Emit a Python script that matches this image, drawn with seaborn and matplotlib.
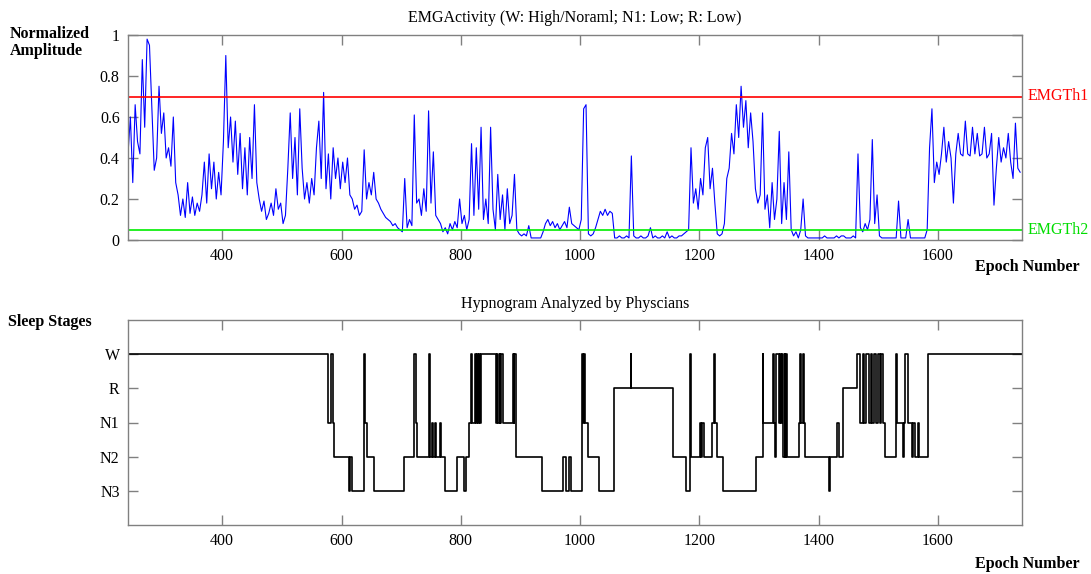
import numpy as np
import pandas as pd
import matplotlib
matplotlib.use("Agg")
import matplotlib.pyplot as plt
import seaborn as sns

# EMG amplitude, one value every 4 epochs starting at epoch 242
emg_start = 242
emg_step = 4
emg_values = [
    0.42, 0.60, 0.28, 0.66, 0.48, 0.42, 0.88, 0.55, 0.98, 0.95,
    0.65, 0.34, 0.40, 0.75, 0.52, 0.62, 0.40, 0.45, 0.36, 0.60,
    0.28, 0.22, 0.12, 0.20, 0.11, 0.28, 0.13, 0.21, 0.12, 0.18,
    0.14, 0.22, 0.38, 0.18, 0.42, 0.25, 0.38, 0.20, 0.33, 0.22,
    0.48, 0.90, 0.45, 0.60, 0.38, 0.58, 0.32, 0.52, 0.25, 0.45,
    0.22, 0.50, 0.30, 0.66, 0.28, 0.20, 0.14, 0.19, 0.10, 0.13,
    0.18, 0.12, 0.25, 0.15, 0.18, 0.08, 0.12, 0.35, 0.62, 0.30,
    0.50, 0.22, 0.64, 0.35, 0.20, 0.28, 0.18, 0.30, 0.22, 0.45,
    0.58, 0.30, 0.72, 0.25, 0.42, 0.20, 0.45, 0.30, 0.40, 0.25,
    0.38, 0.28, 0.40, 0.22, 0.20, 0.15, 0.17, 0.12, 0.14, 0.44,
    0.20, 0.28, 0.22, 0.33, 0.20, 0.18, 0.15, 0.13, 0.11, 0.10,
    0.09, 0.07, 0.08, 0.06, 0.05, 0.04, 0.30, 0.06, 0.10, 0.07,
    0.61, 0.18, 0.20, 0.12, 0.25, 0.14, 0.63, 0.18, 0.43, 0.12,
    0.10, 0.08, 0.04, 0.06, 0.03, 0.08, 0.05, 0.09, 0.06, 0.20,
    0.08, 0.12, 0.05, 0.10, 0.47, 0.12, 0.45, 0.15, 0.55, 0.10,
    0.20, 0.08, 0.55, 0.15, 0.05, 0.32, 0.10, 0.22, 0.05, 0.25,
    0.08, 0.12, 0.32, 0.05, 0.03, 0.02, 0.03, 0.02, 0.07, 0.01,
    0.01, 0.01, 0.01, 0.01, 0.04, 0.08, 0.10, 0.07, 0.09, 0.06,
    0.08, 0.05, 0.07, 0.09, 0.06, 0.16, 0.08, 0.07, 0.06, 0.05,
    0.10, 0.64, 0.66, 0.03, 0.02, 0.03, 0.06, 0.10, 0.14, 0.12,
    0.15, 0.12, 0.14, 0.13, 0.01, 0.01, 0.02, 0.01, 0.01, 0.02,
    0.01, 0.41, 0.02, 0.01, 0.01, 0.02, 0.01, 0.01, 0.02, 0.06,
    0.01, 0.02, 0.01, 0.01, 0.02, 0.01, 0.04, 0.01, 0.02, 0.01,
    0.01, 0.02, 0.02, 0.03, 0.04, 0.05, 0.45, 0.18, 0.25, 0.15,
    0.30, 0.22, 0.45, 0.50, 0.25, 0.35, 0.18, 0.03, 0.02, 0.03,
    0.08, 0.30, 0.35, 0.52, 0.42, 0.66, 0.50, 0.75, 0.55, 0.68,
    0.45, 0.62, 0.48, 0.25, 0.18, 0.22, 0.62, 0.15, 0.22, 0.06,
    0.28, 0.10, 0.20, 0.53, 0.08, 0.28, 0.10, 0.43, 0.05, 0.02,
    0.04, 0.01, 0.05, 0.20, 0.02, 0.01, 0.01, 0.01, 0.01, 0.01,
    0.01, 0.01, 0.02, 0.01, 0.01, 0.01, 0.01, 0.02, 0.01, 0.02,
    0.02, 0.01, 0.01, 0.01, 0.02, 0.01, 0.42, 0.06, 0.04, 0.08,
    0.05, 0.10, 0.49, 0.08, 0.22, 0.02, 0.01, 0.01, 0.01, 0.01,
    0.01, 0.01, 0.01, 0.19, 0.01, 0.01, 0.01, 0.10, 0.01, 0.01,
    0.01, 0.01, 0.01, 0.01, 0.01, 0.05, 0.45, 0.64, 0.28, 0.38,
    0.32, 0.42, 0.55, 0.38, 0.48, 0.40, 0.18, 0.42, 0.52, 0.42,
    0.41, 0.58, 0.42, 0.41, 0.55, 0.42, 0.52, 0.41, 0.42, 0.55,
    0.40, 0.42, 0.52, 0.17, 0.35, 0.50, 0.38, 0.45, 0.40, 0.52,
    0.38, 0.30, 0.57, 0.35, 0.33,
]
emg_epochs = emg_start + emg_step * np.arange(len(emg_values))

th1 = 0.7
th2 = 0.05

# hypnogram as change points: epoch where a stage starts, and the stage
stage_names = ["N3", "N2", "N1", "R", "W"]
stage_code = {"N3": 1, "N2": 2, "N1": 3, "R": 4, "W": 5}
hyp_starts = [
    242, 578, 582, 585, 588, 612, 615, 618, 638, 640, 642, 655, 704, 722, 725,
    727, 747, 749, 751, 753, 757, 759, 765, 767, 774, 794, 805, 809, 813, 817,
    819, 823, 825, 827, 829, 830, 832, 834, 859, 861, 863, 865, 866, 868, 870,
    887, 889, 890, 892, 936, 972, 976, 981, 984, 1003, 1005, 1007, 1009, 1013,
    1032, 1057, 1085, 1086, 1155, 1178, 1184, 1186, 1201, 1203, 1205, 1208,
    1222, 1225, 1226, 1229, 1240, 1295, 1306, 1307, 1323, 1325, 1327, 1329,
    1333, 1335, 1337, 1338, 1340, 1343, 1344, 1346, 1347, 1367, 1369, 1371,
    1373, 1375, 1377, 1417, 1419, 1431, 1434, 1441, 1465, 1469, 1474, 1476,
    1479, 1485, 1487, 1490, 1493, 1496, 1500, 1503, 1505, 1508, 1512, 1529,
    1532, 1541, 1543, 1545, 1550, 1556, 1558, 1561, 1567, 1569, 1583,
]
hyp_stages = [
    "W", "N1", "W", "N1", "N2", "N3", "N2", "N3", "W", "N1", "N2", "N3", "N2", "W", "N1",
    "N2", "W", "N2", "N1", "N2", "N1", "N2", "N1", "N2", "N3", "N2", "N3", "N2", "N1", "W",
    "N1", "W", "N1", "W", "N1", "W", "N1", "W", "N1", "W", "N1", "W", "N1", "W", "N1",
    "W", "N1", "W", "N2", "N3", "N2", "N3", "N2", "N3", "W", "N1", "W", "N1", "N2",
    "N3", "R", "W", "R", "N2", "N3", "W", "N2", "N1", "N2", "N1", "N2",
    "N1", "W", "N1", "N2", "N3", "N2", "W", "N1", "W", "N1", "N2", "W",
    "N1", "W", "N1", "W", "N2", "W", "N2", "W", "N2", "N1", "W", "N1",
    "W", "N1", "N2", "N3", "N2", "N1", "N2", "R", "W", "N1", "W", "N1",
    "W", "N1", "W", "N1", "W", "N1", "W", "N1", "W", "N1", "N2", "W",
    "N1", "N2", "N1", "W", "N1", "N2", "N1", "N2", "N1", "N2", "W",
]
x_min, x_max = 242, 1741

emg_df = pd.DataFrame({"epoch": emg_epochs, "amp": emg_values})
hyp_df = pd.DataFrame({
    "epoch": hyp_starts + [x_max],
    "stage": [stage_code[s] for s in hyp_stages] + [stage_code[hyp_stages[-1]]],
})

sns.set_style("white")
plt.rcParams["font.family"] = ["Liberation Serif", "DejaVu Serif"]
plt.rcParams["text.color"] = "black"
plt.rcParams["xtick.labelcolor"] = "black"
plt.rcParams["ytick.labelcolor"] = "black"

fig = plt.figure(figsize=(10.91, 5.74), dpi=100)
ax1 = fig.add_axes([128 / 1091, 1 - 240 / 574, 894 / 1091, 205 / 574])
ax2 = fig.add_axes([128 / 1091, 1 - 525 / 574, 894 / 1091, 205 / 574])

grey = "#808080"
fs = 11.5

# EMG panel
sns.lineplot(data=emg_df, x="epoch", y="amp", ax=ax1, color="#0000ff",
             linewidth=0.8, estimator=None)
ax1.axhline(th1, color="red", linewidth=1.2)
ax1.axhline(th2, color="#00ee00", linewidth=1.2)
ax1.text(1.006, th1, "EMGTh1", color="red", transform=ax1.get_yaxis_transform(),
         va="center", ha="left", fontsize=11.5)
ax1.text(1.006, th2, "EMGTh2", color="#00dd00", transform=ax1.get_yaxis_transform(),
         va="center", ha="left", fontsize=11.5)
ax1.set_xlim(x_min, x_max)
ax1.set_ylim(0, 1)
ax1.set_yticks([0, 0.2, 0.4, 0.6, 0.8, 1])
ax1.set_yticklabels(["0", "0.2", "0.4", "0.6", "0.8", "1"])
ax1.set_xticks([400, 600, 800, 1000, 1200, 1400, 1600])
ax1.set_title("EMGActivity (W: High/Noraml; N1: Low; R: Low)", fontsize=fs, pad=9,
              color="black")

# hypnogram panel
sns.lineplot(data=hyp_df, x="epoch", y="stage", ax=ax2, color="black",
             linewidth=1.2, estimator=None, drawstyle="steps-post")
ax2.set_xlim(x_min, x_max)
ax2.set_ylim(0, 6)
ax2.set_yticks([1, 2, 3, 4, 5])
ax2.set_yticklabels(stage_names)
ax2.set_xticks([400, 600, 800, 1000, 1200, 1400, 1600])
ax2.set_title("Hypnogram Analyzed by Physcians", fontsize=fs, pad=9, color="black")

for ax in (ax1, ax2):
    ax.set_xlabel("")
    ax.set_ylabel("")
    for sp in ax.spines.values():
        sp.set_color(grey)
        sp.set_linewidth(1)
    ax.tick_params(direction="in", length=7, width=1, color=grey,
                   top=True, right=True, bottom=True, left=True,
                   labelsize=fs, pad=6, labelcolor="black")

fig.text(10 / 1091, 1 - 26 / 574, "Normalized\nAmplitude", fontsize=fs,
         fontweight="bold", va="top", ha="left", linespacing=1.1)
fig.text(1080 / 1091, 1 - 267 / 574, "Epoch Number", fontsize=fs,
         fontweight="bold", va="center", ha="right")
fig.text(8 / 1091, 1 - 322 / 574, "Sleep Stages", fontsize=fs,
         fontweight="bold", va="center", ha="left")
fig.text(1080 / 1091, 1 - 564 / 574, "Epoch Number", fontsize=fs,
         fontweight="bold", va="center", ha="right")

fig.savefig("out.png", dpi=100)
